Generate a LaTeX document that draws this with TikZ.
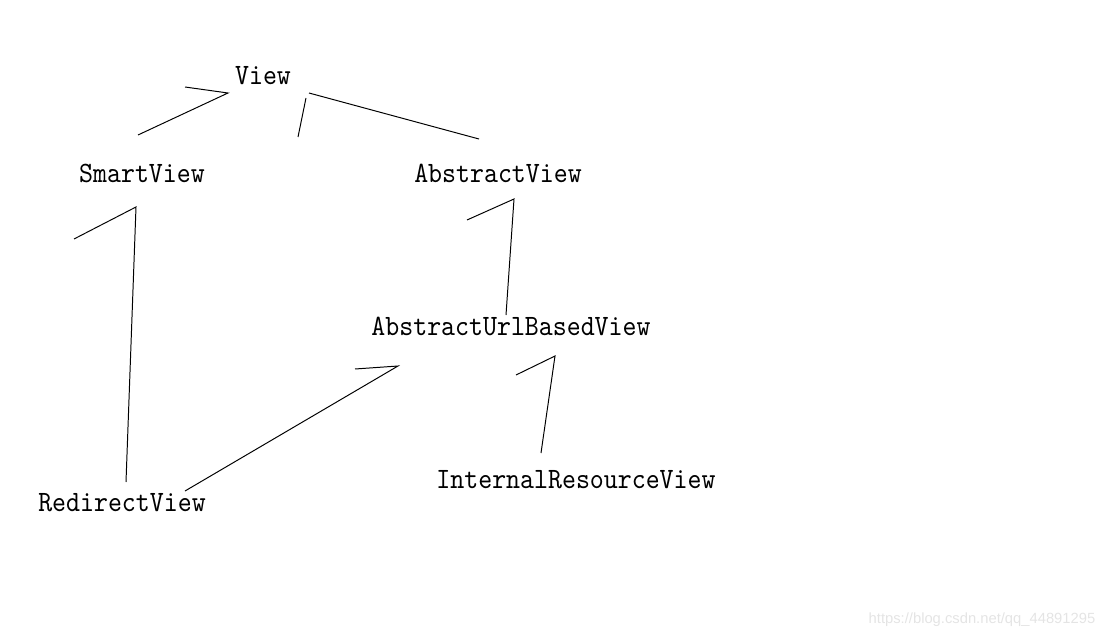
\documentclass[tikz,border=0pt]{standalone}
\usepackage{fontspec}
\setmonofont{lmmono10-regular.otf}[FakeStretch=0.9]
\setsansfont{Liberation Sans}
\usetikzlibrary{positioning}
\definecolor{UmlInk}{RGB}{0,0,0}
\definecolor{UmlMark}{RGB}{228,228,228}
\tikzset{
  uml/class/.style={
    anchor=base,
    inner sep=0pt,
    text=UmlInk,
    font=\fontsize{21}{25}\selectfont\ttfamily
  },
  uml/line/.style={draw=UmlInk, line width=0.7pt},
  uml/mark/.style={anchor=base, inner sep=0pt, text=UmlMark, font=\fontsize{10.5}{12}\selectfont\sffamily}
}

\begin{document}
\begin{tikzpicture}[x=0.025cm,y=-0.025cm]
  \useasboundingbox (0,0) rectangle (1113,637);
  % classes
  \node[uml/class] (view) at (263,85) {View};
  \node[uml/class] (smart) at (142,182) {SmartView};
  \node[uml/class] (abstract) at (498,183) {AbstractView};
  \node[uml/class] (urlbased) at (511,335.5) {AbstractUrlBasedView};
  \node[uml/class] (redirect) at (122,511.5) {RedirectView};
  \node[uml/class] (internal) at (576,488.5) {InternalResourceView};
  \node[uml/mark] (mark) at (982,623) {https://blog.csdn.net/qq\_44891295};
  % ends of the strokes
  \coordinate (smart-up) at (138,135);
  \coordinate (view-l) at (228,93);
  \coordinate (view-lb) at (185,87);
  \coordinate (view-r) at (309,93);
  \coordinate (view-rb) at (306,98);
  \coordinate (view-rb2) at (298,137);
  \coordinate (abstract-up) at (479,139);
  \coordinate (smart-dn) at (136,207);
  \coordinate (smart-b) at (74,239);
  \coordinate (redirect-up) at (126,482);
  \coordinate (urlbased-l) at (398,366);
  \coordinate (urlbased-lb) at (355,369);
  \coordinate (redirect-r) at (185,491);
  \coordinate (abstract-dn) at (514,199);
  \coordinate (abstract-b) at (467,220);
  \coordinate (urlbased-up) at (506,315);
  \coordinate (urlbased-r) at (555,356);
  \coordinate (urlbased-rb) at (516,375);
  \coordinate (internal-up) at (541,453);
  % inheritance strokes
  \draw[uml/line] (smart-up) -- (view-l) -- (view-lb);
  \draw[uml/line] (abstract-up) -- (view-r);
  \draw[uml/line] (view-rb) -- (view-rb2);
  \draw[uml/line] (smart-b) -- (smart-dn) -- (redirect-up);
  \draw[uml/line] (urlbased-lb) -- (urlbased-l) -- (redirect-r);
  \draw[uml/line] (abstract-b) -- (abstract-dn) -- (urlbased-up);
  \draw[uml/line] (urlbased-rb) -- (urlbased-r) -- (internal-up);
\end{tikzpicture}
\end{document}
